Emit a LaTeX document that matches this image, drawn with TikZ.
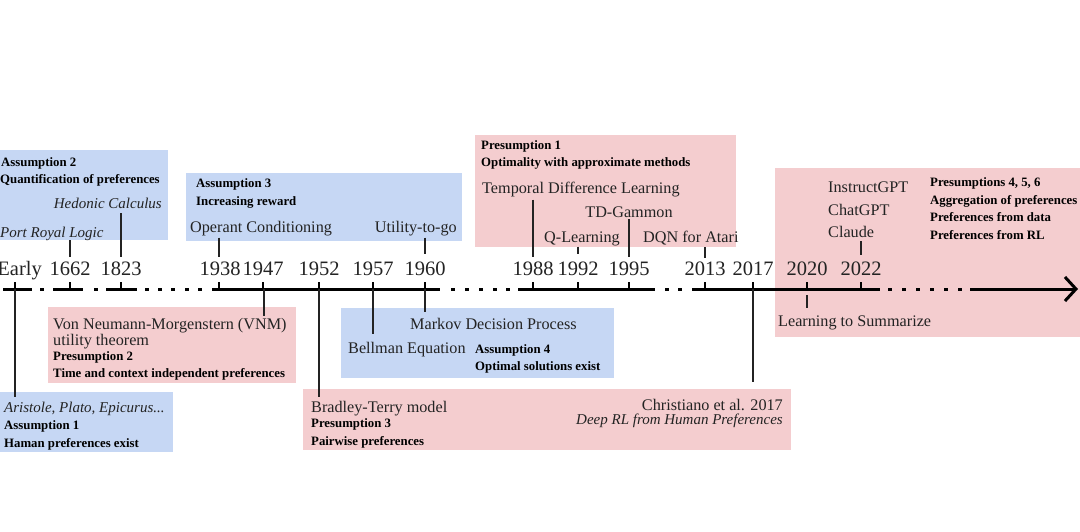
\documentclass[tikz,border=0pt]{standalone}
\usepackage{fontspec}
\setmainfont{Liberation Serif}
\usetikzlibrary{arrows.meta}
\definecolor{boxblue}{RGB}{198,215,244}
\definecolor{boxpink}{RGB}{244,205,207}
\definecolor{ink}{RGB}{35,35,35}
\tikzset{
  bluebox/.style={fill=boxblue, draw=none, anchor=north west, inner sep=0pt, outer sep=0pt},
  pinkbox/.style={fill=boxpink, draw=none, anchor=north west, inner sep=0pt, outer sep=0pt},
  yr/.style={anchor=base, inner sep=0pt, font=\fontsize{20.5}{22}\selectfont, text=ink},
  lbl/.style={inner sep=0pt, font=\fontsize{16.2}{18}\selectfont, text=ink},
  ital/.style={inner sep=0pt, font=\fontsize{15}{17}\selectfont\itshape, text=ink},
  hd/.style={inner sep=0pt, anchor=base west, font=\fontsize{12.8}{15}\selectfont\bfseries, text=black},
  conn/.style={draw=ink, line width=1.1pt},
  axisline/.style={draw=black, line width=3pt},
  tickline/.style={draw=black, line width=2pt},
}
\begin{document}
\begin{tikzpicture}[x=1pt,y=-1pt]
\useasboundingbox (0,0) rectangle (1080,532);

% ---------- boxes ----------
\node[bluebox, minimum width=168pt, minimum height=90pt] (bA2) at (0,150) {};
\node[bluebox, minimum width=276pt, minimum height=68pt] (bA3) at (186,173) {};
\node[pinkbox, minimum width=261pt, minimum height=112pt] (bP1) at (475,135) {};
\node[pinkbox, minimum width=310pt, minimum height=169pt] (bP456) at (775,168) {};
\node[pinkbox, minimum width=248pt, minimum height=76pt] (bP2) at (48,307) {};
\node[bluebox, minimum width=173pt, minimum height=60pt] (bA1) at (0,392) {};
\node[bluebox, minimum width=273pt, minimum height=70pt] (bA4) at (341,308) {};
\node[pinkbox, minimum width=488pt, minimum height=61pt] (bP3) at (303,389) {};

% ---------- axis ----------
\foreach \a/\b in {3/32,53/83,106/137,212/440,518/655,692/880}
  \draw[axisline] (\a,289) -- (\b,289);
\foreach \x in {42,96,147,160,173,187,200,453,467,481,495,508,667,680,890,904,918,932,946,960}
  \draw[axisline] ({\x-2},289) -- ({\x+2},289);
\coordinate (axstart) at (970,289);
\coordinate (axend) at (1078,289);
\draw[axisline, -{Straight Barb[length=11pt,width=24pt]}] (axstart) -- (axend);

% tick coordinates
\foreach \n/\x in {Early/15,1662/70,1823/121,1938/219,1947/263,1952/319,1957/373,1960/425,1988/533,1992/578,1995/629,2013/705,2017/753,2020/807,2022/861}{
  \coordinate (t\n) at (\x,289);
  \draw[tickline] (\x,282) -- (t\n);
}

% ---------- years ----------
\node[yr, anchor=base east] (yEarly) at (42,276) {Early};
\foreach \n/\x in {1662/70,1823/121,1938/220,1947/263,1952/319,1957/373,1960/425,1988/533,1992/578,1995/629,2013/705,2017/753,2020/807,2022/861}
  \node[yr] (y\n) at (\x,276) {\n};

% ---------- texts ----------
% Assumption 2
\node[hd] (a2t) at (1,167) {Assumption 2};
\node[hd] (a2s) at (0,184) {Quantification of preferences};
\node[ital, anchor=base east] (hedonic) at (162,208) {Hedonic Calculus};
\node[ital, anchor=base west] (portroyal) at (0,237) {Port Royal Logic};
% Assumption 3
\node[hd] (a3t) at (196,188) {Assumption 3};
\node[hd] (a3s) at (196,206) {Increasing reward};
\node[lbl, anchor=base west] (operant) at (190,233) {Operant Conditioning};
\node[lbl, anchor=base east] (utility) at (457,233) {Utility-to-go};
% Presumption 1
\node[hd] (p1t) at (481,150) {Presumption 1};
\node[hd] (p1s) at (481,167) {Optimality with approximate methods};
\node[lbl, anchor=base west] (tdl) at (482,194) {Temporal Difference Learning};
\node[lbl, anchor=base] (tdg) at (629,218) {TD-Gammon};
\node[lbl, anchor=base] (qlearn) at (582,242) {Q-Learning};
\node[lbl, anchor=base west] (dqn) at (643,242) {DQN for Atari};
% Presumptions 4,5,6
\node[lbl, anchor=base west] (instruct) at (828,193) {InstructGPT};
\node[lbl, anchor=base west] (chatgpt) at (828,216) {ChatGPT};
\node[lbl, anchor=base west] (claude) at (828,237) {Claude};
\node[hd] (p4t) at (930,187) {Presumptions 4, 5, 6};
\node[hd] (p4a) at (930,205) {Aggregation of preferences};
\node[hd] (p4b) at (930,222) {Preferences from data};
\node[hd] (p4c) at (930,240) {Preferences from RL};
\node[lbl, anchor=base west] (lts) at (778,326) {Learning to Summarize};
% Presumption 2
\node[lbl, anchor=base west] (vnm) at (53,329) {Von Neumann-Morgenstern (VNM)};
\node[lbl, anchor=base west] (vnmb) at (53,345) {utility theorem};
\node[hd] (p2t) at (53,360) {Presumption 2};
\node[hd] (p2s) at (53,377) {Time and context independent preferences};
% Assumption 1
\node[ital, anchor=base west] (aristole) at (4,412) {Aristole, Plato, Epicurus...};
\node[hd] (a1t) at (4,429) {Assumption 1};
\node[hd] (a1s) at (4,447) {Haman preferences exist};
% Assumption 4
\node[lbl, anchor=base west] (markov) at (410,329) {Markov Decision Process};
\node[lbl, anchor=base west] (bellman) at (348,353) {Bellman Equation};
\node[hd] (a4t) at (475,353) {Assumption 4};
\node[hd] (a4s) at (475,370) {Optimal solutions exist};
% Presumption 3
\node[lbl, anchor=base west] (bradley) at (311,412) {Bradley-Terry model};
\node[hd] (p3t) at (311,427) {Presumption 3};
\node[hd] (p3s) at (311,445) {Pairwise preferences};
\node[lbl, anchor=base east] (christiano) at (783,410) {Christiano et al. 2017};
\node[ital, anchor=base east] (deeprl) at (783,424) {Deep RL from Human Preferences};

% ---------- connectors (upper) ----------
\draw[conn] (y1662 |- bA2.south) -- ([yshift=5pt]y1662.north);
\draw[conn] ([yshift=-5pt]y1823 |- hedonic.south) -- ([yshift=5pt]y1823.north);
\draw[conn] ([yshift=-1pt]t1938 |- operant.south) -- ([yshift=5pt]t1938 |- y1938.north);
\draw[conn] ([yshift=-1pt]y1960 |- utility.south) -- ([yshift=8pt]y1960.north);
\draw[conn] ([yshift=-2pt]y1988 |- tdl.south) -- ([yshift=5pt]y1988.north);
\draw[conn] ([yshift=-1pt]y1992 |- qlearn.south) -- ([yshift=8pt]y1992.north);
\draw[conn] ([yshift=-1pt]y1995 |- tdg.south) -- ([yshift=5pt]y1995.north);
\draw[conn] (y2013 |- bP1.south) -- ([yshift=4pt]y2013.north);
\draw[conn] ([yshift=-4pt]y2022 |- claude.south) -- ([yshift=7pt]y2022.north);

% ---------- connectors (lower) ----------
\coordinate (end2017) at (753,382);
\draw[conn] (tEarly) -- ([yshift=-5pt]tEarly |- bA1.north);
\draw[conn] ([xshift=1pt]t1947) -- ([xshift=1pt,yshift=2pt]t1947 |- vnm.north);
\draw[conn] (t1952) -- ([yshift=4pt]t1952 |- bradley.north);
\draw[conn] (t1957) -- ([yshift=8pt]t1957 |- bellman.north);
\draw[conn] (t1960) -- ([yshift=-4pt]t1960 |- bA4.north);
\draw[conn] (t2017) -- (end2017);
\draw[conn] ([yshift=-6pt]t2020) -- ([yshift=7pt]t2020 |- lts.north);
\end{tikzpicture}
\end{document}
